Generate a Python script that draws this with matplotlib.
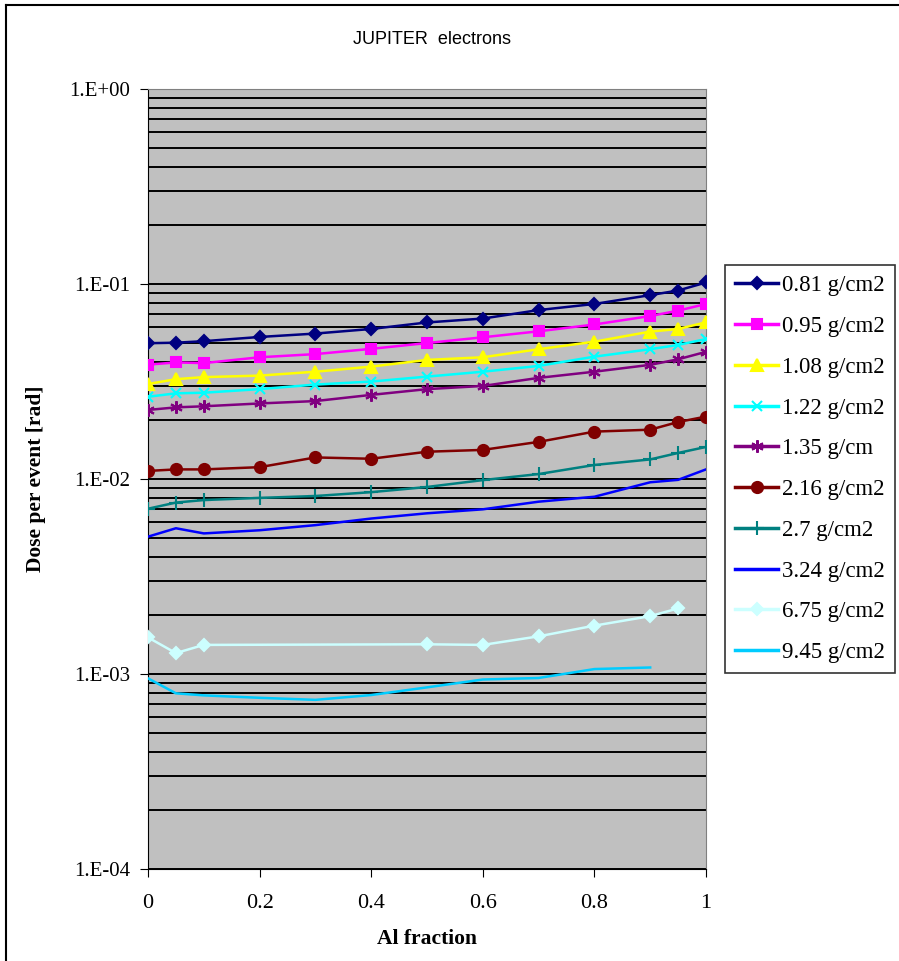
import numpy as np
import matplotlib
matplotlib.use("Agg")
import matplotlib.pyplot as plt
from matplotlib.ticker import FixedLocator, LogLocator, NullFormatter
from matplotlib.lines import Line2D

# Al fraction values
x_all = [0, 0.05, 0.1, 0.2, 0.3, 0.4, 0.5, 0.6, 0.7, 0.8, 0.9, 0.95, 1.0]
x_675 = [0, 0.05, 0.1, 0.5, 0.6, 0.7, 0.8, 0.9, 0.95]
x_945 = [0, 0.05, 0.1, 0.2, 0.3, 0.4, 0.5, 0.6, 0.7, 0.8, 0.9]

# dose per event [rad]
d_081 = [0.0497, 0.0500, 0.0509, 0.0535, 0.0557, 0.0588, 0.0635, 0.0665, 0.0735, 0.0790, 0.0877, 0.0926, 0.1018]
d_095 = [0.0386, 0.0396, 0.0393, 0.0421, 0.0437, 0.0465, 0.0498, 0.0533, 0.0572, 0.0620, 0.0685, 0.0730, 0.0790]
d_108 = [0.0307, 0.0325, 0.0333, 0.0339, 0.0355, 0.0377, 0.0408, 0.0421, 0.0463, 0.0506, 0.0570, 0.0588, 0.0636]
d_122 = [0.0264, 0.0275, 0.0277, 0.0289, 0.0305, 0.0316, 0.0335, 0.0355, 0.0380, 0.0424, 0.0463, 0.0487, 0.0522]
d_135 = [0.0226, 0.0233, 0.0236, 0.0244, 0.0251, 0.0270, 0.0289, 0.0300, 0.0330, 0.0355, 0.0385, 0.0411, 0.0449]
d_216 = [0.0110, 0.0112, 0.0112, 0.0115, 0.0129, 0.0127, 0.0138, 0.0141, 0.0155, 0.0175, 0.0179, 0.0196, 0.0209]
d_270 = [0.00704, 0.00757, 0.00780, 0.00800, 0.00818, 0.00856, 0.00910, 0.00987, 0.0106, 0.0118, 0.0126, 0.0136, 0.0146]
d_324 = [0.00506, 0.00559, 0.00526, 0.00546, 0.00580, 0.00627, 0.00667, 0.00699, 0.00765, 0.00811, 0.00962, 0.0099, 0.0112]
d_675 = [0.00154, 0.00128, 0.00141, 0.00142, 0.00141, 0.00156, 0.00177, 0.00198, 0.00217]
d_945 = [0.00095, 0.000796, 0.000777, 0.000755, 0.000737, 0.000780, 0.000854, 0.000937, 0.000954, 0.00106, 0.00108]

labels = ["0.81 g/cm2", "0.95 g/cm2", "1.08 g/cm2", "1.22 g/cm2", "1.35 g/cm",
          "2.16 g/cm2", "2.7 g/cm2", "3.24 g/cm2", "6.75 g/cm2", "9.45 g/cm2"]

serie = [
    (x_all, d_081, "#000080", "D", 6),
    (x_all, d_095, "#FF00FF", "s", 7),
    (x_all, d_108, "#FFFF00", "^", 8),
    (x_all, d_122, "#00FFFF", "x", 7),
    (x_all, d_135, "#800080", (6, 2, 0), 9),
    (x_all, d_216, "#800000", "o", 8),
    (x_all, d_270, "#008080", "+", 10),
    (x_all, d_324, "#0000FF", None, 0),
    (x_675, d_675, "#CCFFFF", "D", 6),
    (x_945, d_945, "#00CCFF", None, 0),
]

serif = "Liberation Serif"

fig = plt.figure(figsize=(8.99, 9.61), dpi=100)
ax = fig.add_axes([148/899, 1-869/961, (706-148)/899, (869-89)/961])
ax.set_facecolor("#C0C0C0")

for (xs, ys, c, m, ms), lab in zip(serie, labels):
    ax.plot(xs, ys, color=c, marker=m, markersize=ms, lw=1.8, mew=1.5, label=lab, zorder=3)

ax.set_yscale("log")
ax.set_ylim(1e-4, 1)
ax.set_xlim(0, 1)
ax.yaxis.set_major_locator(FixedLocator([1e-4, 1e-3, 1e-2, 1e-1, 1]))
ax.set_yticklabels(["1.E-04", "1.E-03", "1.E-02", "1.E-01", "1.E+00"])
ax.yaxis.set_minor_locator(LogLocator(base=10, subs=np.arange(2, 10)))
ax.yaxis.set_minor_formatter(NullFormatter())
ax.set_xticks([0, 0.2, 0.4, 0.6, 0.8, 1.0])
ax.set_xticklabels(["0", "0.2", "0.4", "0.6", "0.8", "1"])
ax.grid(axis="y", which="both", color="black", lw=1.4, zorder=1)
ax.set_axisbelow(True)
ax.tick_params(axis="y", which="minor", length=0)
ax.tick_params(axis="both", which="major", direction="out", length=6, color="black")
ax.tick_params(axis="y", pad=7, labelsize=15)
ax.tick_params(axis="x", pad=12, labelsize=16)
for t in ax.get_xticklabels() + ax.get_yticklabels():
    t.set_fontfamily(serif)
for s in ax.spines.values():
    s.set_color("#808080")
ax.spines["left"].set_color("black")
ax.spines["bottom"].set_color("black")

ax.set_xlabel("Al fraction", fontfamily=serif, fontweight="bold", fontsize=15.5)
ax.set_ylabel("Dose per event [rad]", fontfamily=serif, fontweight="bold", fontsize=15.5)
ax.xaxis.set_label_coords(0.5, -0.077)
ax.yaxis.set_label_coords(-0.183, 0.5)
fig.text(432/899, 1-39/961, "JUPITER  electrons", ha="center", va="center",
         fontfamily="Liberation Sans", fontsize=13)

leg = fig.legend(loc="upper left", bbox_to_anchor=(725/899, 1-265/961), frameon=True,
                 fancybox=False, edgecolor="black", prop={"family": serif, "size": 16.5},
                 handlelength=1.85, handletextpad=0.2, labelspacing=0.86,
                 borderpad=0.45, borderaxespad=0)
leg.get_frame().set_linewidth(1.2)
for h in leg.legend_handles:
    h.set_linewidth(2.5)

# outer chart frame
fig.add_artist(Line2D([6/899, 6/899], [0, 1-5/961], color="black", lw=1.5))
fig.add_artist(Line2D([6/899, 1], [1-5/961, 1-5/961], color="black", lw=1.5))

fig.savefig("out.png", dpi=100)
